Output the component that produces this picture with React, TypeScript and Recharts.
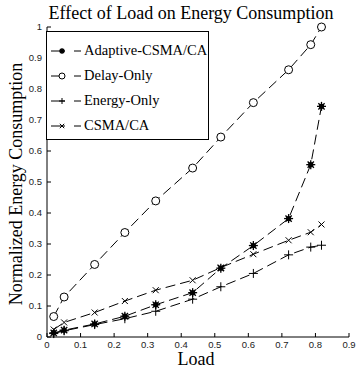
import { LineChart, Line, XAxis, YAxis, Legend } from "recharts";

// values
const load = [0.02, 0.051, 0.142, 0.232, 0.324, 0.434, 0.518, 0.615, 0.72, 0.786, 0.818];
const adaptive = [0.013, 0.022, 0.042, 0.067, 0.104, 0.143, 0.222, 0.295, 0.382, 0.556, 0.744];
const delayOnly = [0.066, 0.129, 0.234, 0.337, 0.439, 0.545, 0.645, 0.756, 0.862, 0.943, 1.0];
const energyOnly = [0.011, 0.02, 0.04, 0.059, 0.083, 0.122, 0.162, 0.205, 0.265, 0.29, 0.296];
const csma = [0.024, 0.047, 0.079, 0.116, 0.151, 0.183, 0.224, 0.267, 0.312, 0.338, 0.363];

const xTicks = [0, 0.1, 0.2, 0.3, 0.4, 0.5, 0.6, 0.7, 0.8, 0.9];
const yTicks = [0, 0.1, 0.2, 0.3, 0.4, 0.5, 0.6, 0.7, 0.8, 0.9, 1];
const legendOrder = ["adaptive", "delayOnly", "energyOnly", "csma"];

const data = load.map((x, i) => ({
  load: x,
  adaptive: adaptive[i],
  delayOnly: delayOnly[i],
  energyOnly: energyOnly[i],
  csma: csma[i],
}));

const SERIF = '"Liberation Serif", "Times New Roman", serif';
const SANS = '"Liberation Sans", Arial, sans-serif';
const DASH = "10 5";

type MarkerKind = "star" | "circle" | "plus" | "cross";

function Marker({ kind, cx, cy, small }: { kind: MarkerKind; cx: number; cy: number; small?: boolean }) {
  const s = small ? 3 : 4.5;
  if (kind === "circle") {
    return <circle cx={cx} cy={cy} r={small ? 3 : 4} fill="#fff" stroke="#000" strokeWidth={1} />;
  }
  if (kind === "plus") {
    return (
      <g stroke="#000" strokeWidth={1}>
        <line x1={cx - s} y1={cy} x2={cx + s} y2={cy} />
        <line x1={cx} y1={cy - s} x2={cx} y2={cy + s} />
      </g>
    );
  }
  if (kind === "cross") {
    const c = small ? 2.2 : 3;
    return (
      <g stroke="#000" strokeWidth={1}>
        <line x1={cx - c} y1={cy - c} x2={cx + c} y2={cy + c} />
        <line x1={cx - c} y1={cy + c} x2={cx + c} y2={cy - c} />
      </g>
    );
  }
  const d = s * 0.7;
  return (
    <g stroke="#000" strokeWidth={1.3}>
      <line x1={cx - s} y1={cy} x2={cx + s} y2={cy} />
      <line x1={cx} y1={cy - s} x2={cx} y2={cy + s} />
      <line x1={cx - d} y1={cy - d} x2={cx + d} y2={cy + d} />
      <line x1={cx - d} y1={cy + d} x2={cx + d} y2={cy - d} />
      <circle cx={cx} cy={cy} r={small ? 1.3 : 2} fill="#000" />
    </g>
  );
}

const markers: Record<string, MarkerKind> = {
  adaptive: "star",
  delayOnly: "circle",
  energyOnly: "plus",
  csma: "cross",
};

const dotFor = (kind: MarkerKind) => (p: any) =>
  <Marker key={p.index} kind={kind} cx={p.cx} cy={p.cy} />;

function LegendBox({ payload }: any) {
  const items = [...(payload || [])].sort(
    (a: any, b: any) => legendOrder.indexOf(a.dataKey) - legendOrder.indexOf(b.dataKey)
  );
  return (
    <div
      style={{
        border: "1px solid #000",
        background: "#fff",
        width: 163,
        height: 109,
        paddingTop: 6,
        boxSizing: "border-box",
        fontFamily: SERIF,
        fontSize: 14.5,
        color: "#000",
      }}
    >
      {items.map((item: any) => (
        <div key={item.value} style={{ display: "flex", alignItems: "center", height: 25 }}>
          <svg width={30} height={12} style={{ marginLeft: 4, flex: "none" }}>
            <line x1={0} y1={6} x2={30} y2={6} stroke="#000" strokeWidth={1} strokeDasharray="14 9 7" />
            <Marker kind={markers[item.dataKey]} cx={11} cy={6} small />
          </svg>
          <span style={{ fontFamily: SERIF, marginLeft: 3, whiteSpace: "nowrap" }}>{item.value}</span>
        </div>
      ))}
    </div>
  );
}

const tickStyle = { fontSize: 9.5, fontFamily: SANS, fill: "#222" };

export default function App() {
  return (
    <div style={{ position: "absolute", left: 0, top: 0, width: 356, height: 372, background: "#fff" }}>
      <LineChart width={356} height={372} data={data} margin={{ top: 27, right: 7, bottom: 15, left: 17 }}>
        <XAxis
          dataKey="load"
          type="number"
          domain={[0, 0.9]}
          ticks={xTicks}
          height={20}
          stroke="#000"
          tickSize={-4}
          tickMargin={8}
          tick={tickStyle}
          allowDataOverflow
        />
        <XAxis
          xAxisId="top"
          dataKey="load"
          type="number"
          orientation="top"
          domain={[0, 0.9]}
          ticks={xTicks}
          height={0}
          stroke="#000"
          tickSize={-4}
          tickFormatter={() => ""}
        />
        <YAxis
          type="number"
          domain={[0, 1]}
          ticks={yTicks}
          width={30}
          stroke="#000"
          tickSize={-4}
          tickMargin={9}
          tick={tickStyle}
        />
        <YAxis
          yAxisId="right"
          type="number"
          orientation="right"
          domain={[0, 1]}
          ticks={yTicks}
          width={0}
          stroke="#000"
          tickSize={-4}
          tickFormatter={() => ""}
        />
        <Legend
          layout="vertical"
          align="center"
          verticalAlign="middle"
          content={<LegendBox />}
          wrapperStyle={{ position: "absolute", left: 46, top: 31, width: "auto", height: "auto" }}
        />
        <Line name="Adaptive-CSMA/CA" dataKey="adaptive" stroke="#000" strokeWidth={1} strokeDasharray={DASH} dot={dotFor("star")} isAnimationActive={false} />
        <Line name="Delay-Only" dataKey="delayOnly" stroke="#000" strokeWidth={1} strokeDasharray={DASH} dot={dotFor("circle")} isAnimationActive={false} />
        <Line name="Energy-Only" dataKey="energyOnly" stroke="#000" strokeWidth={1} strokeDasharray={DASH} dot={dotFor("plus")} isAnimationActive={false} />
        <Line name="CSMA/CA" dataKey="csma" stroke="#000" strokeWidth={1} strokeDasharray={DASH} dot={dotFor("cross")} isAnimationActive={false} />
        <text x={191} y={18.5} textAnchor="middle" fontFamily={SERIF} fontSize={18} fill="#000">
          Effect of Load on Energy Consumption
        </text>
        <text x={196} y={365} textAnchor="middle" fontFamily={SERIF} fontSize={18} fill="#000">
          Load
        </text>
        <text
          x={0}
          y={0}
          transform="translate(22 184) rotate(-90)"
          textAnchor="middle"
          fontFamily={SERIF}
          fontSize={18}
          fill="#000"
        >
          Normalized Energy Consumption
        </text>
      </LineChart>
    </div>
  );
}
